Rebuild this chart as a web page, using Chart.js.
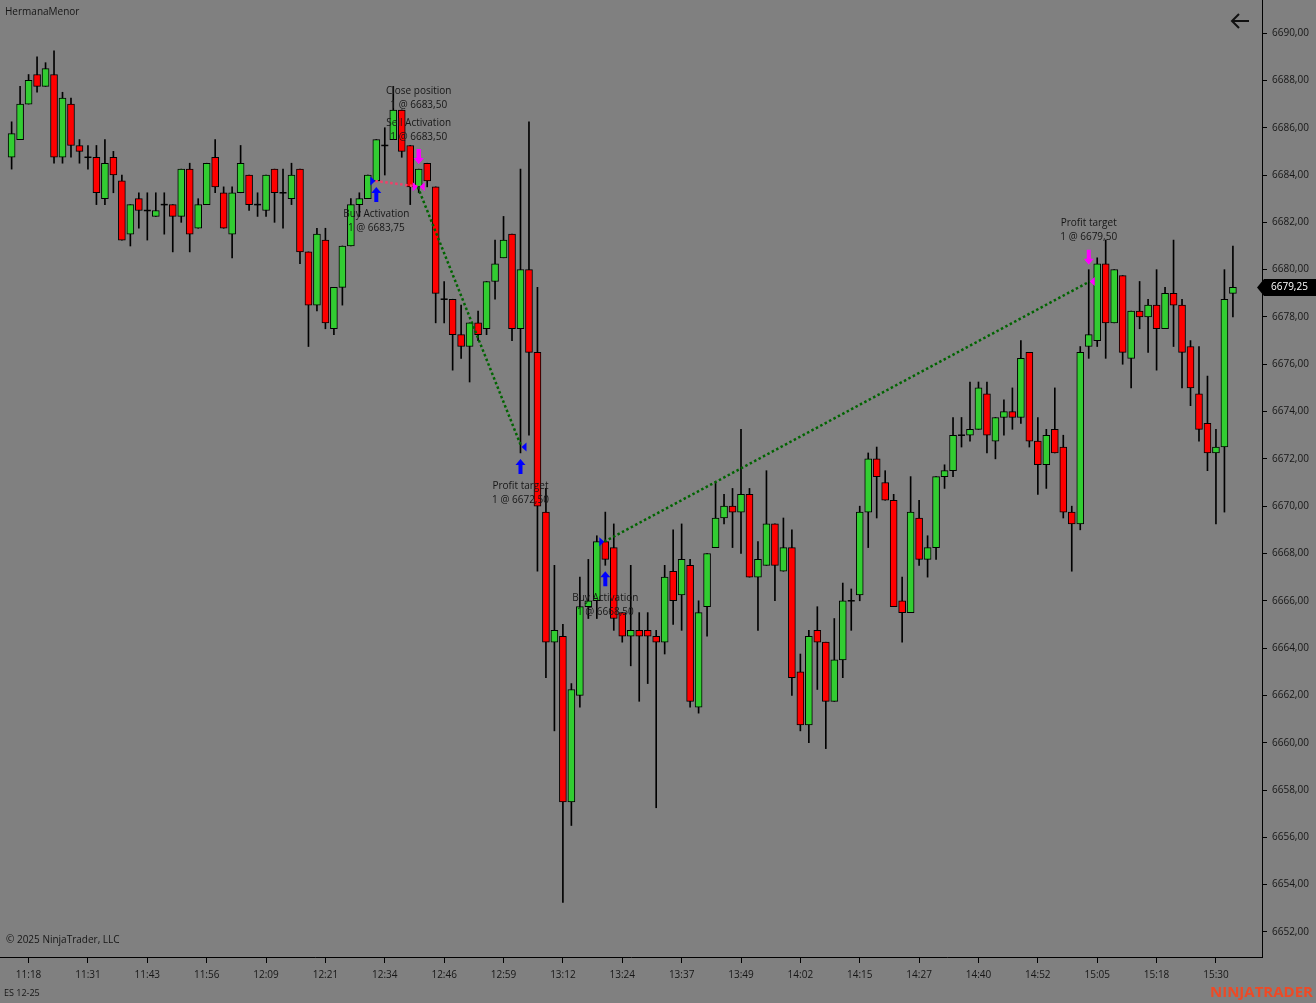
<!DOCTYPE html>
<html>
<head>
<meta charset="utf-8">
<title>HermanaMenor - ES 12-25</title>
<script src="https://cdn.jsdelivr.net/npm/chart.js@4.4.1/dist/chart.umd.min.js"></script>
<style>
  html, body { margin: 0; padding: 0; background: #808080; }
  #wrap { position: relative; width: 1316px; height: 1003px; }
</style>
</head>
<body>
<div id="wrap"><canvas id="priceChart"></canvas></div>
<script>
// bar times shown on the axis (every 7th bar, starting at bar 2)
const timeLabels = ['11:18', '11:31', '11:43', '11:56', '12:09', '12:21', '12:34', '12:46', '12:59', '13:12',
    '13:24', '13:37', '13:49', '14:02', '14:15', '14:27', '14:40', '14:52', '15:05', '15:18', '15:30'];
const timeTickBars = [2, 9, 16, 23, 30, 37, 44, 51, 58, 65, 72, 79, 86, 93, 100, 107, 114, 121, 128, 135, 142];

const priceTicks = [6652, 6654, 6656, 6658, 6660, 6662, 6664, 6666, 6668, 6670,
    6672, 6674, 6676, 6678, 6680, 6682, 6684, 6686, 6688, 6690];

const opens = [
    6684.75, 6685.5, 6687.0, 6688.25, 6687.75, 6688.25, 6684.75, 6687.0, 6685.25, 6684.75,
    6684.75, 6683.0, 6684.75, 6683.75, 6681.5, 6683.0, 6682.5, 6682.25, 6682.75, 6682.75,
    6682.25, 6684.25, 6681.75, 6682.75, 6684.75, 6683.25, 6681.5, 6683.25, 6684.0, 6682.75,
    6682.5, 6684.25, 6683.25, 6683.0, 6684.25, 6680.75, 6678.5, 6681.25, 6677.5, 6679.25,
    6681.0, 6682.75, 6683.0, 6683.75, 6685.25, 6685.5, 6686.75, 6685.25, 6683.5, 6684.5,
    6683.5, 6678.75, 6678.75, 6677.25, 6676.75, 6677.75, 6677.5, 6679.5, 6680.5, 6681.5,
    6677.5, 6680.0, 6676.5, 6669.75, 6664.25, 6664.5, 6657.5, 6662.0, 6665.75, 6666.0,
    6668.5, 6668.25, 6665.5, 6664.5, 6664.75, 6664.75, 6664.5, 6664.25, 6667.25, 6666.25,
    6667.5, 6661.5, 6665.75, 6668.25, 6669.5, 6670.0, 6669.75, 6670.5, 6667.0, 6667.5,
    6669.25, 6667.25, 6668.25, 6663.0, 6660.75, 6664.75, 6664.25, 6661.75, 6663.5, 6666.0,
    6666.25, 6669.75, 6672.0, 6671.0, 6670.25, 6666.0, 6665.5, 6669.5, 6667.75, 6668.25,
    6671.25, 6671.5, 6673.0, 6673.0, 6673.25, 6674.75, 6672.75, 6673.75, 6674.0, 6673.75,
    6676.5, 6672.75, 6671.75, 6673.25, 6672.5, 6669.75, 6669.25, 6676.75, 6677.0, 6680.25,
    6677.75, 6679.75, 6676.25, 6678.25, 6678.0, 6678.5, 6677.5, 6679.0, 6678.5, 6676.75,
    6674.75, 6673.5, 6672.25, 6672.5, 6679.0
];
const highs = [
    6686.25, 6687.75, 6688.25, 6689.0, 6688.75, 6689.25, 6687.5, 6687.25, 6685.5, 6685.25,
    6685.25, 6685.5, 6685.0, 6684.0, 6682.75, 6683.25, 6683.25, 6683.25, 6683.25, 6682.75,
    6684.25, 6684.5, 6683.0, 6684.5, 6685.5, 6683.5, 6683.5, 6685.25, 6684.0, 6683.25,
    6684.0, 6684.25, 6684.25, 6684.5, 6684.25, 6680.75, 6681.75, 6681.75, 6679.25, 6681.0,
    6683.0, 6683.25, 6684.0, 6685.5, 6686.0, 6687.75, 6686.75, 6685.25, 6684.25, 6684.5,
    6683.5, 6679.5, 6678.75, 6678.5, 6677.75, 6678.25, 6679.5, 6681.25, 6682.25, 6681.5,
    6684.25, 6686.25, 6679.25, 6670.75, 6667.5, 6665.0, 6662.5, 6667.0, 6667.75, 6668.75,
    6669.75, 6669.25, 6665.5, 6667.5, 6665.5, 6665.5, 6664.75, 6667.5, 6669.0, 6669.25,
    6667.75, 6666.0, 6668.0, 6671.0, 6670.5, 6670.75, 6673.25, 6670.75, 6668.5, 6671.5,
    6669.25, 6669.5, 6669.0, 6663.75, 6664.75, 6665.75, 6664.25, 6665.25, 6666.75, 6666.5,
    6670.0, 6672.25, 6672.5, 6671.5, 6670.5, 6667.0, 6671.25, 6670.25, 6668.75, 6671.25,
    6671.75, 6673.75, 6673.75, 6675.25, 6675.25, 6675.25, 6673.75, 6674.5, 6675.0, 6677.0,
    6676.5, 6673.75, 6673.25, 6675.0, 6673.0, 6670.0, 6676.75, 6680.0, 6680.5, 6681.25,
    6680.0, 6679.75, 6678.25, 6679.5, 6678.75, 6680.0, 6679.25, 6681.25, 6678.75, 6677.0,
    6676.75, 6675.5, 6673.25, 6680.0, 6681.0
];
const lows = [
    6684.25, 6685.5, 6687.0, 6687.5, 6687.75, 6684.5, 6684.5, 6684.75, 6684.5, 6684.25,
    6682.75, 6682.75, 6683.25, 6681.25, 6681.0, 6681.75, 6681.25, 6682.25, 6681.5, 6680.75,
    6682.0, 6680.75, 6681.75, 6682.75, 6683.25, 6681.75, 6680.5, 6683.25, 6682.5, 6682.25,
    6682.25, 6682.0, 6681.75, 6682.75, 6680.25, 6676.75, 6678.25, 6677.5, 6677.25, 6678.5,
    6681.0, 6682.25, 6683.0, 6683.75, 6684.0, 6685.5, 6684.75, 6682.75, 6683.25, 6683.5,
    6677.75, 6677.75, 6675.75, 6676.25, 6675.25, 6677.0, 6677.25, 6678.75, 6680.5, 6677.0,
    6672.25, 6673.0, 6667.25, 6662.75, 6660.5, 6653.25, 6656.5, 6661.5, 6665.25, 6665.25,
    6667.5, 6664.75, 6664.25, 6663.25, 6661.75, 6662.5, 6657.25, 6663.75, 6665.0, 6664.75,
    6661.5, 6661.25, 6664.5, 6668.25, 6669.25, 6668.25, 6668.0, 6667.0, 6664.75, 6667.5,
    6666.0, 6667.25, 6662.0, 6660.5, 6660.0, 6662.25, 6659.75, 6661.75, 6662.75, 6664.75,
    6666.0, 6668.25, 6669.5, 6670.25, 6665.75, 6664.25, 6665.5, 6667.5, 6667.0, 6667.75,
    6670.75, 6671.25, 6672.5, 6672.75, 6673.25, 6672.25, 6672.0, 6673.0, 6673.25, 6673.5,
    6672.5, 6670.5, 6670.75, 6672.25, 6669.5, 6667.25, 6669.0, 6676.25, 6676.75, 6676.25,
    6677.75, 6676.0, 6675.0, 6677.5, 6676.5, 6675.75, 6677.5, 6676.75, 6675.0, 6674.25,
    6672.75, 6671.5, 6669.25, 6669.75, 6678.0
];
const closes = [
    6685.75, 6687.0, 6688.0, 6687.75, 6688.5, 6684.75, 6687.25, 6685.25, 6685.0, 6684.75,
    6683.25, 6684.5, 6684.0, 6681.25, 6682.75, 6682.5, 6682.5, 6682.5, 6682.75, 6682.25,
    6684.25, 6681.5, 6682.75, 6684.5, 6683.5, 6681.75, 6683.25, 6684.5, 6682.75, 6682.75,
    6684.0, 6683.25, 6683.25, 6684.0, 6680.75, 6678.5, 6681.5, 6677.75, 6679.25, 6681.0,
    6682.75, 6683.0, 6684.0, 6685.5, 6685.25, 6686.75, 6685.0, 6683.5, 6684.25, 6683.75,
    6679.0, 6678.75, 6677.25, 6676.75, 6677.75, 6677.25, 6679.5, 6680.25, 6681.25, 6677.5,
    6680.0, 6676.5, 6670.0, 6664.25, 6664.75, 6657.5, 6662.25, 6665.75, 6666.0, 6668.5,
    6667.75, 6665.25, 6664.5, 6664.75, 6664.5, 6664.5, 6664.25, 6667.0, 6666.0, 6667.75,
    6661.75, 6665.5, 6668.0, 6669.5, 6670.0, 6669.75, 6670.5, 6667.0, 6667.75, 6669.25,
    6667.5, 6668.25, 6662.75, 6660.75, 6664.5, 6664.25, 6661.75, 6663.5, 6666.0, 6666.0,
    6669.75, 6672.0, 6671.25, 6670.25, 6665.75, 6665.5, 6669.75, 6667.75, 6668.25, 6671.25,
    6671.5, 6673.0, 6673.0, 6673.25, 6675.0, 6673.0, 6673.75, 6674.0, 6673.75, 6676.25,
    6672.75, 6671.75, 6673.0, 6672.25, 6669.75, 6669.25, 6676.5, 6677.25, 6680.25, 6677.75,
    6680.0, 6676.5, 6678.25, 6678.0, 6678.5, 6677.5, 6679.0, 6678.5, 6676.5, 6675.0,
    6673.25, 6672.25, 6672.5, 6678.75, 6679.25
];

// executions of the strategy
const execBars = [43, 48, 48, 60, 70, 127];
const execPrices = [6683.75, 6683.50, 6683.50, 6672.50, 6668.50, 6679.50];
const execSides = ['buy', 'sell', 'sell', 'buy', 'buy', 'sell'];
const execNames = ['Buy Activation', 'Close position', 'Sell Activation', 'Profit target', 'Buy Activation', 'Profit target'];
// trades: entry execution -> exit execution
const tradeEntries = [0, 2, 4];
const tradeExits = [1, 3, 5];

const UP = '#32cd32';
const DOWN = '#ff0000';
const TEXT = '#161616';
const FONT = "'Open Sans', 'Noto Sans', sans-serif";

const fmtPrice = v => v.toFixed(2).replace('.', ',');

const bodyData = opens.map((o, i) => ({ x: i, y: [Math.min(o, closes[i]), Math.max(o, closes[i])] }));
const bodyColors = opens.map((o, i) => closes[i] >= o ? UP : DOWN);
const wickData = highs.map((h, i) => ({ x: i, y: [lows[i], h] }));

// keep the plot flush with the canvas edges
function noPad(s) {
    s.paddingTop = 0;
    s.paddingBottom = 0;
    s.paddingLeft = 0;
    s.paddingRight = 0;
}

const ntOverlay = {
    id: 'ntOverlay',
    beforeDraw(chart) {
        const c = chart.ctx;
        c.save();
        c.fillStyle = '#808080';
        c.fillRect(0, 0, chart.width, chart.height);
        c.restore();
    },
    afterDatasetsDraw(chart) {
        const c = chart.ctx;
        const x = chart.scales.x, y = chart.scales.y;
        c.save();

        // doji bars: just a flat line
        c.strokeStyle = '#000';
        c.lineWidth = 1.5;
        opens.forEach((o, i) => {
            if (o !== closes[i]) return;
            const px = x.getPixelForValue(i), py = y.getPixelForValue(o);
            c.beginPath();
            c.moveTo(px - 3.5, py);
            c.lineTo(px + 3.5, py);
            c.stroke();
        });

        // dotted trade lines
        c.lineWidth = 2.5;
        c.setLineDash([2.5, 2.5]);
        tradeEntries.forEach((e, k) => {
            const t = tradeExits[k];
            const diff = execPrices[t] - execPrices[e];
            const win = execSides[e] === 'buy' ? diff > 0 : diff < 0;
            c.strokeStyle = win ? '#006400' : '#f0406a';
            c.beginPath();
            c.moveTo(x.getPixelForValue(execBars[e]) - 1, y.getPixelForValue(execPrices[e]));
            c.lineTo(x.getPixelForValue(execBars[t]) + 1, y.getPixelForValue(execPrices[t]));
            c.stroke();
        });
        c.setLineDash([]);

        // execution markers + labels
        c.font = '10px ' + FONT;
        c.textAlign = 'center';
        c.textBaseline = 'middle';
        execBars.forEach((b, k) => {
            const cx = x.getPixelForValue(b);
            const py = y.getPixelForValue(execPrices[k]);
            const buy = execSides[k] === 'buy';
            c.fillStyle = buy ? '#0000ff' : '#ff00ff';

            // triangle at the fill price
            c.beginPath();
            if (tradeEntries.includes(k)) {
                c.moveTo(cx - 6, py - 4.5);
                c.lineTo(cx - 6, py + 4.5);
                c.lineTo(cx - 1, py);
            } else {
                c.moveTo(cx + 1, py);
                c.lineTo(cx + 6, py - 4.5);
                c.lineTo(cx + 6, py + 4.5);
            }
            c.closePath();
            c.fill();

            // arrow under the low (buy) or over the high (sell)
            const d = buy ? 1 : -1;
            const tip = buy ? y.getPixelForValue(lows[b]) + 6 : y.getPixelForValue(highs[b]) - 5;
            c.beginPath();
            c.moveTo(cx, tip);
            c.lineTo(cx + 5, tip + 6 * d);
            c.lineTo(cx + 2, tip + 6 * d);
            c.lineTo(cx + 2, tip + 15 * d);
            c.lineTo(cx - 2, tip + 15 * d);
            c.lineTo(cx - 2, tip + 6 * d);
            c.lineTo(cx - 5, tip + 6 * d);
            c.closePath();
            c.fill();

            // stacked text
            let level = 0;
            execBars.forEach((b2, k2) => {
                if (k2 > k && b2 === b && execSides[k2] === execSides[k]) level++;
            });
            c.fillStyle = TEXT;
            const l2 = '1 @ ' + fmtPrice(execPrices[k]);
            if (buy) {
                const ty = tip + 27 + level * 32;
                c.fillText(execNames[k], cx, ty);
                c.fillText(l2, cx, ty + 14);
            } else {
                const ty = tip - 27 - level * 32;
                c.fillText(l2, cx, ty);
                c.fillText(execNames[k], cx, ty - 14);
            }
        });
        c.restore();
    },
    afterDraw(chart) {
        const c = chart.ctx;
        const y = chart.scales.y;
        const area = chart.chartArea;
        c.save();
        c.fillStyle = TEXT;
        c.textBaseline = 'middle';
        c.textAlign = 'left';
        c.font = '10px ' + FONT;
        c.fillText('HermanaMenor', 5, 12);
        c.fillText('\u00a9 2025 NinjaTrader, LLC', 6, 940);
        c.font = '9px ' + FONT;
        c.fillText('ES 12-25', 4, 993);

        c.font = 'bold 15px ' + FONT;
        c.textAlign = 'right';
        c.fillStyle = '#ee4a26';
        c.fillText('NINJATRADER', 1313, 993, 111);

        // back arrow
        c.strokeStyle = '#111';
        c.lineWidth = 2;
        c.beginPath();
        c.moveTo(1249, 21); c.lineTo(1232, 21);
        c.moveTo(1239, 14); c.lineTo(1232, 21); c.lineTo(1239, 28);
        c.stroke();

        // last price flag
        const last = closes[closes.length - 1];
        const py = y.getPixelForValue(last);
        c.fillStyle = '#000';
        c.beginPath();
        c.moveTo(area.right - 5, py);
        c.lineTo(area.right + 2, py - 8.5);
        c.lineTo(chart.width, py - 8.5);
        c.lineTo(chart.width, py + 8.5);
        c.lineTo(area.right + 2, py + 8.5);
        c.closePath();
        c.fill();
        c.fillStyle = '#fff';
        c.textAlign = 'left';
        c.font = '10px ' + FONT;
        c.fillText(fmtPrice(last), area.right + 9, py);
        c.restore();
    }
};

const ctx = document.getElementById('priceChart');
new Chart(ctx, {
    type: 'bar',
    data: {
        datasets: [{
            label: 'body',
            data: bodyData,
            backgroundColor: bodyColors,
            borderColor: '#000',
            borderWidth: 1,
            borderSkipped: false,
            barThickness: 7,
            grouped: false
        }, {
            label: 'wick',
            data: wickData,
            backgroundColor: '#000',
            borderWidth: 0,
            barThickness: 1,
            grouped: false
        }]
    },
    options: {
        responsive: true,
        maintainAspectRatio: false,
        animation: false,
        layout: { padding: 0 },
        plugins: {
            legend: { display: false },
            tooltip: { enabled: false }
        },
        scales: {
            x: {
                type: 'linear',
                min: -1.37,
                max: 147.43,
                offset: false,
                afterFit: s => { s.height = 46; noPad(s); },
                afterBuildTicks: s => { s.ticks = timeTickBars.map(v => ({ value: v })); },
                ticks: {
                    autoSkip: false,
                    maxRotation: 0,
                    padding: 6,
                    color: TEXT,
                    font: { family: FONT, size: 10 },
                    callback: v => timeLabels[timeTickBars.indexOf(v)]
                },
                grid: { offset: false, drawOnChartArea: false, drawTicks: true, tickLength: 6, color: '#000' },
                border: { display: true, color: '#000', width: 1 }
            },
            y: {
                position: 'right',
                min: 6650.94,
                max: 6691.40,
                afterFit: s => { s.width = 54; noPad(s); },
                afterBuildTicks: s => { s.ticks = priceTicks.map(v => ({ value: v })); },
                ticks: {
                    padding: 5,
                    color: TEXT,
                    font: { family: FONT, size: 10 },
                    callback: v => fmtPrice(v)
                },
                grid: { drawOnChartArea: false, drawTicks: true, tickLength: 5, color: '#000' },
                border: { display: true, color: '#000', width: 1 }
            }
        }
    },
    plugins: [ntOverlay]
});
</script>
</body>
</html>
